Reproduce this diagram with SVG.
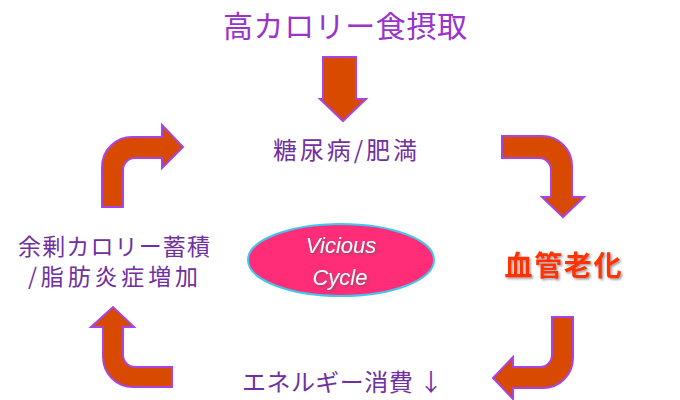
<svg xmlns="http://www.w3.org/2000/svg" width="680" height="400" viewBox="0 0 680 400">
<defs>
<style>
.jp{font-family:"Noto Sans CJK JP","Noto Sans",sans-serif;}
.title{fill:#9933cc;font-size:30px;}
.lbl{fill:#7030a0;font-size:24px;}
.lbl2{fill:#7030a0;font-size:23px;}
.arrow{fill:#d84a00;stroke:#a845e0;stroke-width:2;stroke-linejoin:miter;}
.vc{font-family:"Liberation Sans",Arial,sans-serif;font-style:italic;font-size:22px;fill:#ffffff;}
</style>
<filter id="sh" x="-10%" y="-10%" width="130%" height="140%">
<feDropShadow dx="1.5" dy="1.5" stdDeviation="0.8" flood-color="#555555" flood-opacity="0.6"/>
</filter>
</defs>
<rect width="680" height="400" fill="#ffffff"/>
<g id="connectors">
<path class="arrow" d="M323,57 H356 V99 H366 L343,121 L320,99 H323 Z"/>
<path class="arrow" d="M102,207 V167 A30,30 0 0 1 132,137 H162 V125 L183,147 L162,168 V158 H135 A12,12 0 0 0 123,170 V207 Z"/>
<path class="arrow" d="M502,136 H542 A30,30 0 0 1 572,166 V197 H584 L563,217 L542,197 H551 V170 A12,12 0 0 0 539,158 H502 Z"/>
<path class="arrow" d="M573,317 V358 A30,30 0 0 1 543,388 H513 V399 L493,378 L513,357 V367 H540 A12,12 0 0 0 552,355 V317 Z"/>
<path class="arrow" d="M172,387 H133 A30,30 0 0 1 103,357 V327 H91 L113,307 L134,327 H123 V355 A12,12 0 0 0 135,367 H172 Z"/>
</g>
<g id="node-intake">
<text class="jp title" x="345" y="37" text-anchor="middle" textLength="244" lengthAdjust="spacing">高カロリー食摂取</text>
</g>
<g id="node-diabetes">
<text class="jp lbl" x="345" y="159" text-anchor="middle" textLength="144" lengthAdjust="spacing">糖尿病/肥満</text>
</g>
<g id="node-aging">
<text class="jp" x="563" y="276" text-anchor="middle" font-size="28" font-weight="bold" fill="#ff3300" filter="url(#sh)" textLength="117" lengthAdjust="spacing">血管老化</text>
</g>
<g id="node-energy">
<text class="jp lbl" x="342.5" y="391" text-anchor="middle" textLength="201" lengthAdjust="spacing">エネルギー消費 ↓</text>
</g>
<g id="node-surplus">
<text class="jp lbl2" x="114" y="255" text-anchor="middle" textLength="192" lengthAdjust="spacing">余剰カロリー蓄積</text>
<text class="jp lbl2" x="113" y="285" text-anchor="middle" textLength="170" lengthAdjust="spacing">/脂肪炎症増加</text>
</g>
<g id="node-vicious">
<ellipse cx="341" cy="260" rx="93" ry="36" fill="#ff2d78" stroke="#40c8f0" stroke-width="2"/>
<text class="vc" x="341" y="253" text-anchor="middle" filter="url(#sh)">Vicious</text>
<text class="vc" x="340" y="285" text-anchor="middle" filter="url(#sh)">Cycle</text>
</g>
</svg>
